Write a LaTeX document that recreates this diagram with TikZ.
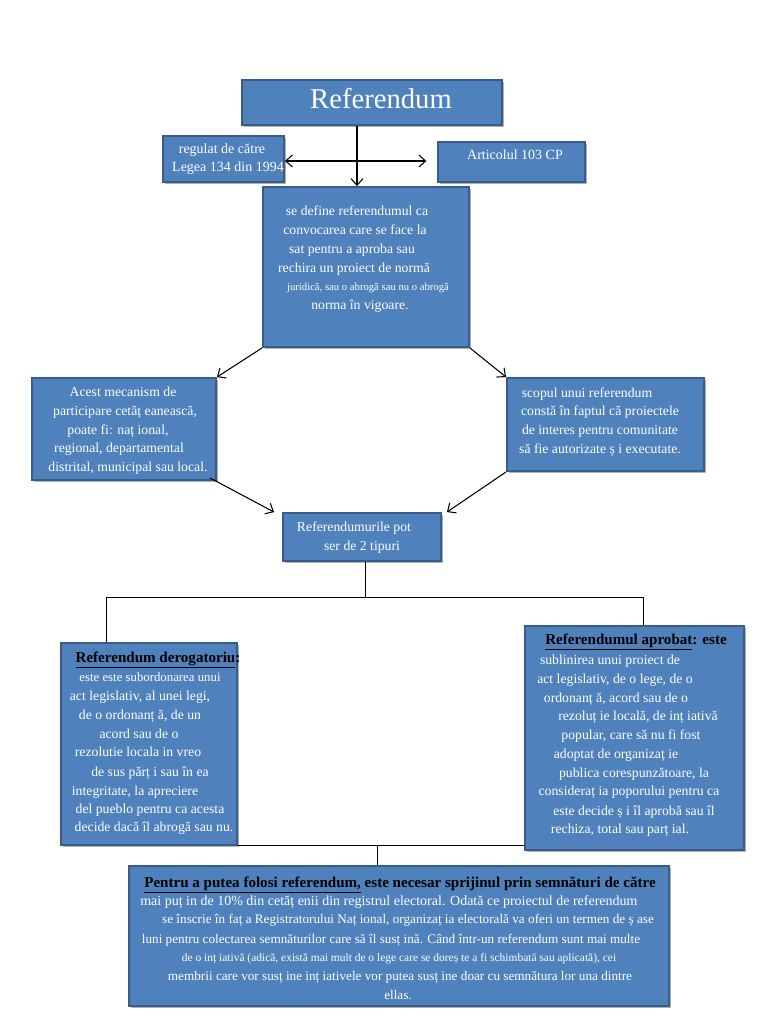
\documentclass[tikz,border=0pt]{standalone}
\usepackage{fontspec}
\setmainfont{Liberation Serif}
\usetikzlibrary{arrows.meta,fit,calc,shadows}
\definecolor{boxfill}{HTML}{4F81BD}
\definecolor{boxline}{HTML}{385D8A}
\begin{document}
\begin{tikzpicture}[x=0.75pt,y=-0.75pt,
  box/.style={draw=boxline, line width=1.4pt, fill=boxfill, inner sep=0pt,
    drop shadow={shadow xshift=1.2pt, shadow yshift=-1.2pt, opacity=0.3, fill=black}},
  txt/.style={text=white, font=\fontsize{10.3}{12}\selectfont, inner sep=0pt,
    text height=0.7em, text depth=0.2em},
  sm/.style={txt, font=\fontsize{8}{10}\selectfont},
  hd/.style={txt, text=black, font=\fontsize{11.3}{13}\selectfont\bfseries},
  bt/.style={txt, font=\fontsize{9.9}{12}\selectfont},
  arr/.style={-{Straight Barb[length=5pt,width=9pt]}, line width=0.8pt},
  arrb/.style={{Straight Barb[length=5pt,width=9pt]}-{Straight Barb[length=5pt,width=9pt]}, line width=0.8pt},
  ln/.style={line width=0.75pt}]
\useasboundingbox (0,0) rectangle (768,1024);

% boxes
\node[box, fit={(242,80)(502,125)}] (title) {};
\node[box, fit={(163,136)(284,182)}] (regulat) {};
\node[box, fit={(438,142)(585,182)}] (articol) {};
\node[box, fit={(263,187)(469,347)}] (central) {};
\node[box, fit={(32,378)(216,480)}] (leftb) {};
\node[box, fit={(507,378)(704,471)}] (rightb) {};
\node[box, fit={(283,513)(441,561)}] (refs) {};
\node[box, fit={(61,643)(237,845)}] (deroga) {};
\node[box, fit={(525,626)(744,850)}] (aprobat) {};
\node[box, fit={(129,866)(669,1006)}] (bottom) {};

% texts
\node[txt, font=\fontsize{21.5}{24}\selectfont] (t0) at (381,105) {Referendum};
\node[txt, font=\fontsize{10.5}{12}\selectfont] (r1) at (222,150) {regulat de către};
\node[txt, font=\fontsize{10.5}{12}\selectfont] (r2) at (228,168) {Legea 134 din 1994};
\node[txt, font=\fontsize{10.5}{12}\selectfont] (a1) at (515,156) {Articolul 103 CP};

\node[txt] (c1) at (357,212) {se define referendumul ca};
\node[txt] (c2) at (355,231) {convocarea care se face la};
\node[txt] (c3) at (352,250) {sat pentru a aproba sau};
\node[txt] (c4) at (354,269) {rechira un proiect de normă};
\node[sm] (c5) at (368,287) {juridică, sau o abrogă sau nu o abrogă};
\node[txt] (c6) at (360,306) {norma în vigoare.};

\node[txt] (l1) at (123,393) {Acest mecanism de};
\node[txt] (l2) at (125,412) {participare cetăț eanească,};
\node[txt] (l3) at (118,431) {poate fi: naț ional,};
\node[txt] (l4) at (119,449) {regional, departamental};
\node[txt] (l5) at (128,468) {distrital, municipal sau local.};

\node[txt] (p1) at (587,394) {scopul unui referendum};
\node[txt] (p2) at (600,412) {constă în faptul că proiectele};
\node[txt] (p3) at (600,431) {de interes pentru comunitate};
\node[txt] (p4) at (600,450) {să fie autorizate ș i executate.};

\node[txt] (f1) at (354,528) {Referendumurile pot};
\node[txt] (f2) at (362,547) {ser de 2 tipuri};

\node[hd] (dh) at (158,659) {\underline{Referendum derogatoriu}:};
\node[txt, font=\fontsize{9.6}{12}\selectfont] (d1) at (150,678) {este este subordonarea unui};
\node[txt] (d2) at (140,697) {act legislativ, al unei legi,};
\node[txt] (d3) at (140,716) {de o ordonanț ă, de un};
\node[txt] (d4) at (139,735) {acord sau de o};
\node[txt] (d5) at (138,753) {rezolutie locala in vreo};
\node[txt] (d6) at (150,773) {de sus părț i sau în ea};
\node[txt] (d7) at (135,792) {integritate, la apreciere};
\node[txt] (d8) at (150,810) {del pueblo pentru ca acesta};
\node[txt] (d9) at (154,828) {decide dacă îl abrogă sau nu.};

\node[hd] (ah) at (636,641) {\underline{Referendumul aprobat}: este};
\node[txt] (e1) at (610,661) {sublinirea unui proiect de};
\node[txt] (e2) at (615,680) {act legislativ, de o lege, de o};
\node[txt] (e3) at (616,699) {ordonanț ă, acord sau de o};
\node[txt] (e4) at (638,717) {rezoluț ie locală, de inț iativă};
\node[txt] (e5) at (631,736) {popular, care să nu fi fost};
\node[txt] (e6) at (616,755) {adoptat de organizaț ie};
\node[txt] (e7) at (634,774) {publica corespunzătoare, la};
\node[txt] (e8) at (629,792) {consideraț ia poporului pentru ca};
\node[txt] (e9) at (634,812) {este decide ș i îl aprobă sau îl};
\node[txt] (e10) at (620,830) {rechiza, total sau parț ial.};

\node[hd] (bh) at (400,884) {\underline{Pentru a putea folosi referendum,} este necesar sprijinul prin semnături de către};
\node[bt, font=\fontsize{10.5}{12}\selectfont, anchor=west] (b1) at (140,902) {mai puț in de 10\% din cetăț enii din registrul electoral. Odată ce proiectul de referendum};
\node[bt] (b2) at (408,920) {se înscrie în faț a Registratorului Naț ional, organizaț ia electorală va oferi un termen de ș ase};
\node[bt] (b3) at (391,940) {luni pentru colectarea semnăturilor care să îl susț ină. Când într-un referendum sunt mai multe};
\node[bt, font=\fontsize{8.6}{10}\selectfont] (b4) at (399,958) {de o inț iativă (adică, există mai mult de o lege care se doreș te a fi schimbată sau aplicată), cei};
\node[bt] (b5) at (400,977) {membrii care vor susț ine inț iativele vor putea susț ine doar cu semnătura lor una dintre};
\node[bt] (b6) at (398,996) {ellas.};

% connectors
\coordinate (vx) at (357,0);
\coordinate (hy) at (0,161);
\draw[arr] (title.south -| vx) -- (central.north -| vx);
\draw[arrb, shorten >=8pt] (regulat.east |- hy) -- (articol.west |- hy);
\draw[arr] (central.south west) -- (leftb.north east);
\draw[arr] (central.south east) -- (rightb.north west);
\draw[arr] ($(leftb.south east)+(-7,-3)$) -- ($(refs.north west)+(-8,0)$);
\draw[arr] (rightb.south west) -- ($(refs.north east)+(5,0)$);

\coordinate (hl) at (106,597);
\coordinate (hr) at (643,597);
\coordinate (rx) at (365,0);
\draw[ln] (refs.south -| rx) -- (hl -| rx);
\draw[ln] (deroga.north -| hl) -- (hl) -- (hr) -- (aprobat.north -| hr);

\coordinate (cb) at (377,845);
\draw[ln] (deroga.east |- cb) -- (aprobat.west |- cb);
\draw[ln] (cb) -- (bottom.north -| cb);
\end{tikzpicture}
\end{document}
